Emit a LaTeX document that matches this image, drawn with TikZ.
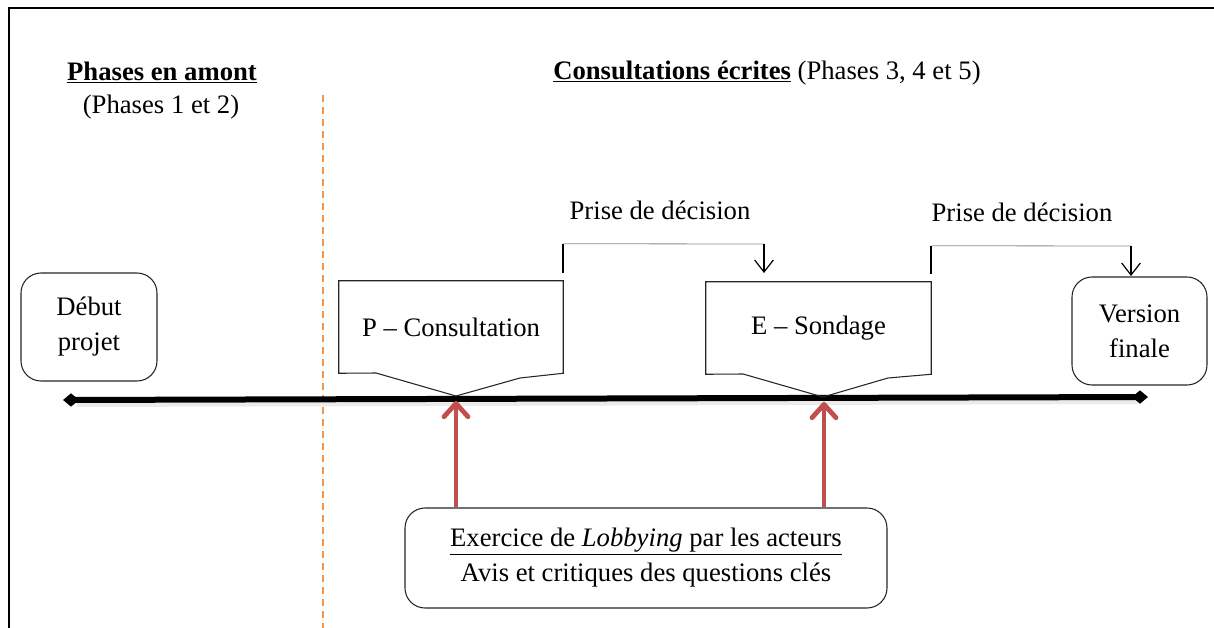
\documentclass[tikz,border=0pt]{standalone}
\usepackage{fontspec}
\setmainfont{Liberation Serif}
\usetikzlibrary{arrows.meta,calc}
\definecolor{redarr}{RGB}{192,80,77}
\definecolor{sepor}{RGB}{247,150,70}
\begin{document}
\begin{tikzpicture}[x=0.75pt,y=-0.75pt,
  font=\fontsize{20}{26.25}\selectfont,
  roundbox/.style={draw=black!85, line width=0.8pt, rounded corners=15pt, align=center, inner sep=0pt},
  calloutbody/.style={inner sep=0pt, minimum height=69pt},
  callout/.style={draw=black!85, line width=0.8pt, line join=miter},
  redarrow/.style={draw=redarr, line width=3.6pt, -{Straight Barb[length=10pt,width=18pt,round]}},
  decarrow/.style={line width=0.9pt, -{Straight Barb[length=9pt,width=14pt]}},
  brkv/.style={line width=1.2pt},
  brkh/.style={draw=black!45, line width=0.6pt},
  title/.style={anchor=base, inner sep=0pt},
  sepline/.style={draw=sepor, line width=1.5pt, dash pattern=on 5.5pt off 3.5pt},
  frameline/.style={line width=2pt},
  timeline/.style={line width=4.5pt, {Diamond[length=12pt,width=10pt]}-{Diamond[length=12pt,width=10pt]}}
]
\useasboundingbox (0,0) rectangle (1214,628);

% frame
\draw[frameline] (1214,8) -- (9,8) -- (9,628);

% separator
\draw[sepline] (323,95) -- (323,628);

% headings
\node[title] (amont) at (162,80) {\bfseries\underline{Phases en amont}};
\node[title] (amont2) at (161,113) {(Phases 1 et 2)};
\node[anchor=base west, inner sep=0pt] (consult) at (553,79) {\underline{\bfseries Consultations écrites} (Phases 3, 4 et 5)};

% timeline
\coordinate (tl0) at (63,400);
\coordinate (tl1) at (1148,397);
\draw[line width=3pt, black!8] ($(tl0)+(14,5)$) -- ($(tl1)+(-10,5)$);
\draw[timeline] (tl0) -- (tl1);

% boxes
\node[roundbox, minimum width=102pt, minimum height=81pt] (debut) at (89,327) {Début\\projet};
\node[roundbox, minimum width=101.25pt, minimum height=81pt] (vf) at (1139.5,331) {Version\\finale};
\node[roundbox, minimum width=361.5pt, minimum height=75pt] (lob) at (646,558)
  {\underline{Exercice de \textit{Lobbying} par les acteurs}\\Avis et critiques des questions clés};

% callouts
\coordinate (tipP) at (456,396);
\coordinate (tipE) at (823,397);
\node[calloutbody, minimum width=168pt] (pc) at (451,327) {P – Consultation};
\node[calloutbody, minimum width=168.75pt] (ec) at (818.5,328) {E – Sondage};
\draw[callout] (pc.south west) -- (pc.north west) -- (pc.north east) -- (pc.south east)
  -- (520,378) -- (tipP) -- (376,373) -- cycle;
\draw[callout] (ec.south west) -- (ec.north west) -- (ec.north east) -- (ec.south east)
  -- (888,378) -- (tipE) -- (743,374) -- cycle;

% decision brackets
\node[title] (pd1) at (660,219) {Prise de décision};
\node[title] (pd2) at (1022,221) {Prise de décision};
\draw[brkv] ($(pc.north east)+(0,-8)$) -- ++(0,-29) coordinate (b1);
\coordinate (b1e) at (764,244);
\draw[brkh] (b1) -- (b1e);
\draw[decarrow] (b1e) -- (764,273);
\draw[brkv] ($(ec.north east)+(0,-8)$) -- ++(0,-28) coordinate (b2);
\coordinate (b2e) at (1131,246);
\draw[brkh] (b2) -- (b2e);
\draw[decarrow] (b2e) -- (1131,276);

% red arrows
\draw[redarrow] (lob.north -| tipP) -- ($(tipP)+(0,5)$);
\draw[redarrow] ($(lob.north -| tipE)+(1,0)$) -- ($(tipE)+(1,5)$);
\end{tikzpicture}
\end{document}
